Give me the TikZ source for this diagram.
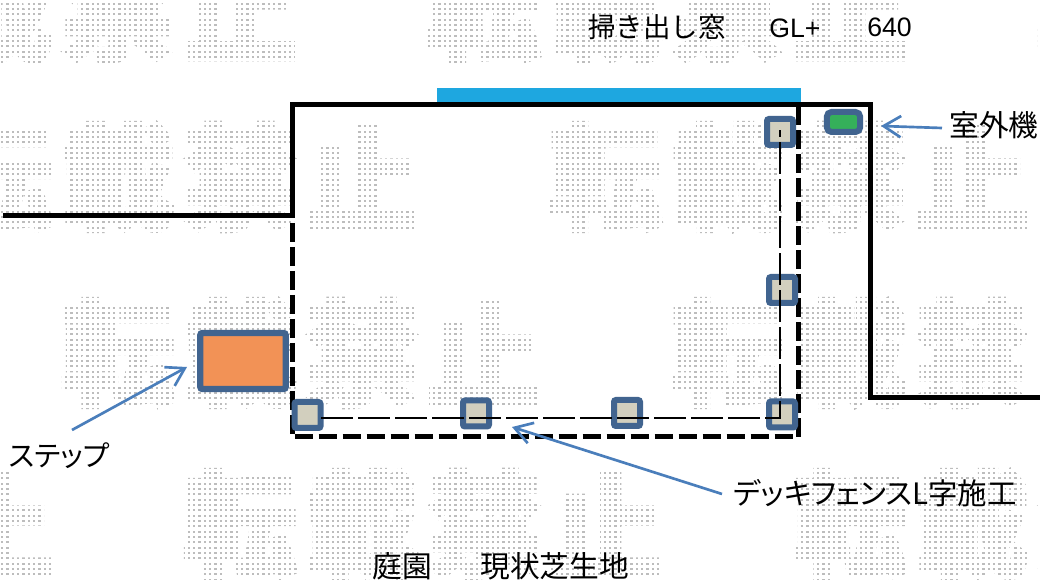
\documentclass[tikz,border=0pt]{standalone}
\usepackage{fontspec}
\setmainfont{Noto Sans CJK JP}[BoldFeatures={FakeBold=3}]
\newfontfamily\latinfont{Liberation Sans}
\newfontfamily\paltfont[RawFeature=+palt]{Noto Sans CJK JP}
\usetikzlibrary{arrows.meta}
\definecolor{framebl}{HTML}{41648F}
\definecolor{postfill}{HTML}{D2CFBE}
\definecolor{arrowbl}{HTML}{4A7EBB}
\definecolor{barbl}{HTML}{1EA7E0}
\definecolor{stepor}{HTML}{F29256}
\definecolor{acgreen}{HTML}{35B05A}
\definecolor{wmgrey}{HTML}{BDBDBD}
\tikzset{
  wmchar/.style={inner sep=0pt,text=wmgrey,font=\fontsize{86pt}{86pt}\selectfont\bfseries},
  post/.style={draw=framebl,fill=postfill,line width=4.5pt,rounded corners=1.5pt,minimum size=19.5pt,inner sep=0pt},
  wall/.style={line width=3.75pt,black,line join=miter},
  deckdash/.style={line width=3.75pt,black,dash pattern=on 13.9pt off 4.1pt},
  fenceline/.style={line width=1.7pt,black,dash pattern=on 24pt off 3.75pt},
  callout/.style={line width=2pt,arrowbl,-{Straight Barb[length=13pt,width=16pt,line width=2pt]}},
  lbl/.style={inner sep=0pt,anchor=west,font=\fontsize{22.3pt}{22pt}\selectfont},
  lblp/.style={inner sep=0pt,anchor=west,font=\paltfont\fontsize{21.5pt}{22pt}\selectfont},
  lbld/.style={inner sep=0pt,anchor=west,font=\paltfont\fontsize{22.1pt}{22pt}\selectfont},
  lbltop/.style={inner sep=0pt,anchor=west,font=\fontsize{20.6pt}{20pt}\selectfont},
  latinlbl/.style={inner sep=0pt,anchor=west,font=\latinfont\fontsize{20pt}{20pt}\selectfont},
}
\begin{document}
\begin{tikzpicture}[x=0.75pt,y=-0.75pt]
\useasboundingbox (0,0) rectangle (1040,580);
\fill[white] (0,0) rectangle (1040,580);
% dotted watermark: grey text seen through a white grid
\begin{scope}
\clip (0,0) rectangle (1040,580);
\foreach \r/\yc in {0/8,1/177,2/353,3/524}{
  \foreach \m in {-1,0,1,2}{
    \foreach \k/\c in {0/転,1/載,2/禁,3/止}{
      \pgfmathsetmacro{\xc}{-126+122*\r+610*\m+122*\k}
      \node[wmchar] (wm\r\m\k) at (\xc,\yc) {\c};
    }
  }
}
\draw[white,line width=2.4pt] foreach \i in {0,...,196}{({-0.5+5.3333*\i},0) -- ({-0.5+5.3333*\i},580)};
\draw[white,line width=2.4pt] foreach \i in {0,...,109}{(0,{1.07+5.3333*\i}) -- (1040,{1.07+5.3333*\i})};
\end{scope}
% free points of the outlines
\coordinate (wa) at (3,215.8);
\coordinate (wb) at (292.5,215.8);
\coordinate (wc) at (292.5,104.5);
\coordinate (wd) at (870.5,104.5);
\coordinate (we) at (870.5,397.5);
\coordinate (wf) at (1040,397.5);
\coordinate (da) at (292.5,223);
\coordinate (db) at (292.5,436.8);
\coordinate (dc) at (798.5,436.8);
\coordinate (dd) at (798.5,106);
\coordinate (fa) at (321,418);
\coordinate (fb) at (780,418);
\coordinate (fc) at (780,130);
% window bar
\fill[barbl] (437,88) rectangle (801,102);
% outlines
\draw[deckdash] (da) -- (db) -- (dc) -- (dd);
\draw[wall] (wa) -- (wb) -- (wc) -- (wd) -- (we) -- (wf);
% posts
\node[post] (p1) at (780,132) {};
\node[post] (p2) at (782,290) {};
\node[post] (p3) at (307.5,415) {};
\node[post] (p4) at (476,413.5) {};
\node[post] (p5) at (627,413) {};
\node[post] (p6) at (782,414.5) {};
\draw[fenceline] (fa) -- (fb) -- (fc);
% step and outdoor unit
\node[draw=framebl,fill=stepor,line width=4.7pt,rounded corners=1.5pt,minimum width=64pt,minimum height=42pt,inner sep=0pt] (stepbox) at (243,361) {};
\node[draw=framebl,fill=acgreen,line width=4.5pt,rounded corners=3.5pt,minimum width=25pt,minimum height=15pt,inner sep=0pt] (acunit) at (843.5,122) {};
% labels
\node[lbltop] (ltop) at (588,27) {掃き出し窓};
\node[latinlbl] (lgl) at (769,28) {GL+};
\node[latinlbl] (lnum) at (867,27) {640};
\node[lbl] (lac) at (949,125) {室外機};
\node[lblp] (lstep) at (9,456) {ステップ};
\node[lbld] (ldeck) at (733,493) {デッキフェンスL字施工};
\node[lbl] (lgarden) at (372,566) {庭園};
\node[lbl] (llawn) at (480,566) {現状芝生地};
% callouts
\coordinate (tac) at (881,126);
\coordinate (tstep) at (187,367);
\coordinate (tdeck) at (512,427);
\draw[callout] ([shift={(-7,3)}]lac.west) -- (tac);
\draw[callout] ([shift={(63,-26)}]lstep.west) -- (tstep);
\draw[callout] ([shift={(-11,1)}]ldeck.west) -- (tdeck);
\end{tikzpicture}
\end{document}
